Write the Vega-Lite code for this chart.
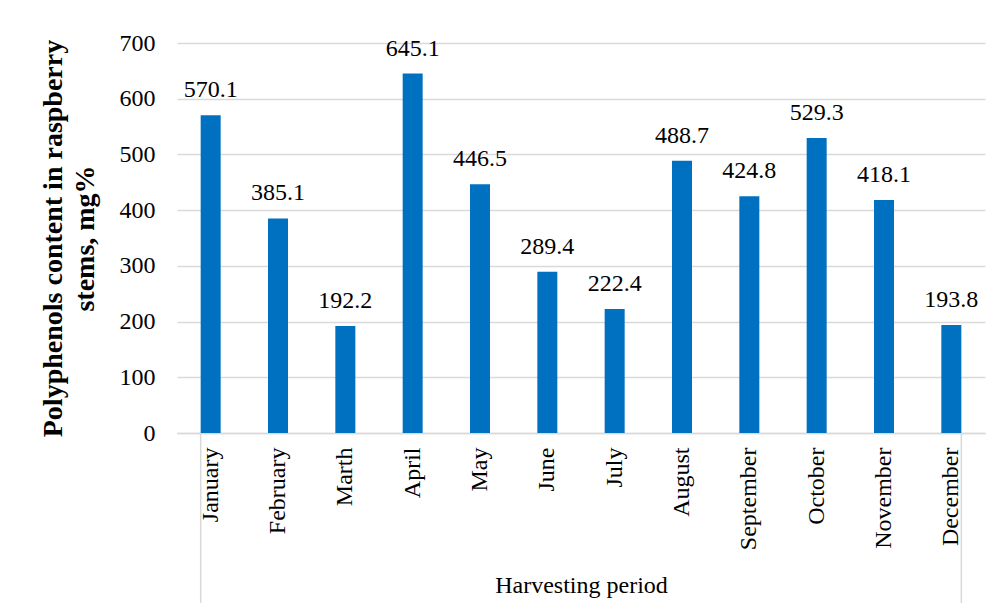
{
  "$schema": "https://vega.github.io/schema/vega-lite/v6.json",
  "autosize": {"type": "none"},
  "padding": {"left": 177, "top": 43, "right": 19, "bottom": 178},
  "width": 808,
  "height": 390,
  "background": "white",
  "config": {
    "view": {"stroke": null},
    "font": "Liberation Serif",
    "text": {"font": "Liberation Serif"},
    "axis": {"labelFont": "Liberation Serif", "titleFont": "Liberation Serif"}
  },
  "data": {
    "values": [
      {"month": "January", "value": 570.1},
      {"month": "February", "value": 385.1},
      {"month": "Marth", "value": 192.2},
      {"month": "April", "value": 645.1},
      {"month": "May", "value": 446.5},
      {"month": "June", "value": 289.4},
      {"month": "July", "value": 222.4},
      {"month": "August", "value": 488.7},
      {"month": "September", "value": 424.8},
      {"month": "October", "value": 529.3},
      {"month": "November", "value": 418.1},
      {"month": "December", "value": 193.8}
    ]
  },
  "layer": [
    {
      "mark": {"type": "bar", "color": "#0070C0"},
      "encoding": {
        "x": {
          "field": "month",
          "type": "nominal",
          "sort": null,
          "scale": {"paddingInner": 0.703, "paddingOuter": 0.3515},
          "axis": {
            "title": "Harvesting period",
            "titleFontSize": 24,
            "titleFontWeight": "normal",
            "titleColor": "#000000",
            "titlePadding": 24,
            "labelAngle": 270,
            "labelFontSize": 24,
            "labelColor": "#000000",
            "labelPadding": 14,
            "ticks": false,
            "domainColor": "#d9d9d9",
            "domainWidth": 1.5
          }
        },
        "y": {
          "field": "value",
          "type": "quantitative",
          "scale": {"domain": [0, 700], "nice": false},
          "axis": {
            "values": [0, 100, 200, 300, 400, 500, 600, 700],
            "title": ["Polyphenols content in raspberry", "stems, mg%"],
            "titleFontSize": 28,
            "titleFontWeight": "bold",
            "titleColor": "#000000",
            "titleLineHeight": 32,
            "titlePadding": 20,
            "labelFontSize": 24,
            "labelColor": "#000000",
            "labelPadding": 22,
            "domain": false,
            "ticks": false,
            "grid": true,
            "gridColor": "#d9d9d9",
            "gridWidth": 1.5
          }
        }
      }
    },
    {
      "mark": {"type": "text", "baseline": "alphabetic", "dy": -18, "fontSize": 24, "font": "Liberation Serif", "color": "#000000"},
      "encoding": {
        "x": {"field": "month", "type": "nominal", "sort": null},
        "y": {"field": "value", "type": "quantitative"},
        "text": {"field": "value", "type": "quantitative", "format": ".1f"}
      }
    },
    {
      "transform": [{"filter": "datum.month === 'January'"}],
      "mark": {"type": "rule", "color": "#d9d9d9", "strokeWidth": 1.5},
      "encoding": {
        "x": {"field": "month", "type": "nominal", "sort": null, "bandPosition": 0},
        "y": {"datum": 0},
        "y2": {"datum": -305}
      }
    },
    {
      "transform": [{"filter": "datum.month === 'December'"}],
      "mark": {"type": "rule", "color": "#d9d9d9", "strokeWidth": 1.5},
      "encoding": {
        "x": {"field": "month", "type": "nominal", "sort": null, "bandPosition": 1},
        "y": {"datum": 0},
        "y2": {"datum": -305}
      }
    }
  ]
}
